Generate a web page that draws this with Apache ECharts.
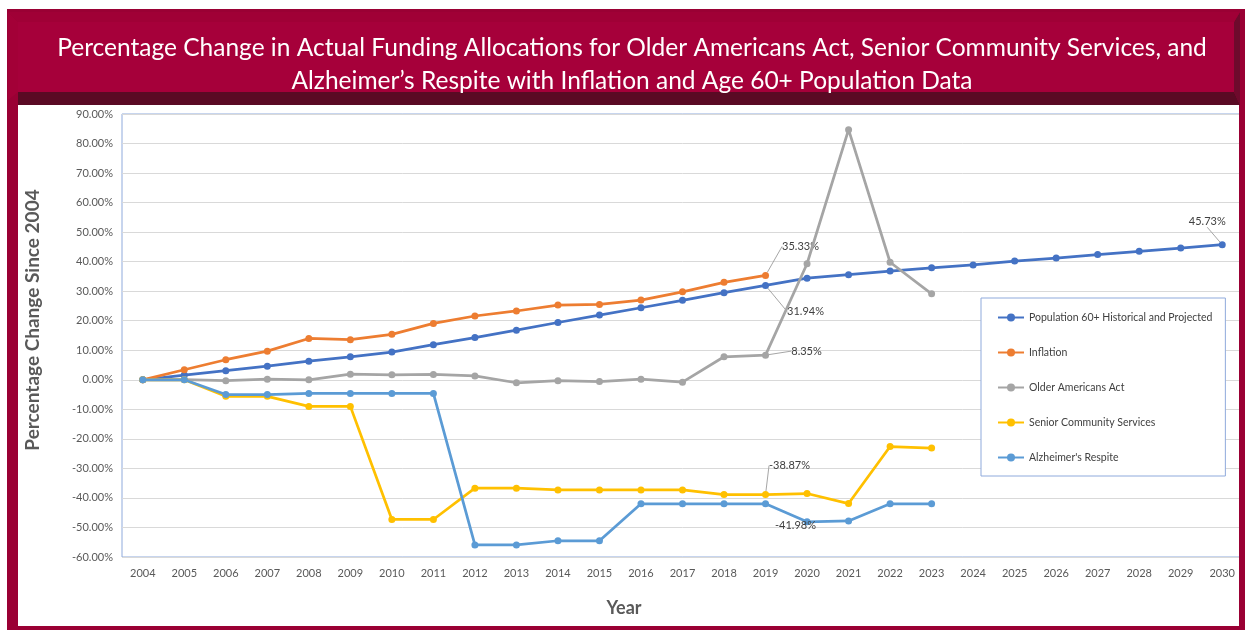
<!DOCTYPE html>
<html>
<head>
<meta charset="utf-8">
<script src="https://cdn.jsdelivr.net/npm/echarts@6/dist/echarts.min.js"></script>
<style>
html,body{margin:0;padding:0;background:#fff;}
#chart{width:1245px;height:630px;}
</style>
</head>
<body>
<div id="chart"></div>
<script>
const years = ['2004','2005','2006','2007','2008','2009','2010','2011','2012','2013','2014','2015','2016','2017','2018','2019','2020','2021','2022','2023','2024','2025','2026','2027','2028','2029','2030'];
const seriesNames = ['Population 60+ Historical and Projected','Inflation','Older Americans Act','Senior Community Services',"Alzheimer's Respite"];
const population = [0,1.6,3.1,4.6,6.3,7.8,9.4,11.9,14.3,16.8,19.4,21.9,24.4,26.9,29.5,31.94,34.4,35.6,36.8,37.9,38.9,40.2,41.2,42.4,43.5,44.6,45.73];
const inflation = [0,3.4,6.8,9.7,14.0,13.6,15.4,19.1,21.6,23.3,25.3,25.5,27.0,29.8,33.0,35.33];
const olderAmericansAct = [0,0.1,-0.3,0.2,0.0,1.9,1.7,1.8,1.3,-1.0,-0.3,-0.6,0.2,-0.8,7.8,8.35,39.3,84.7,39.8,29.1];
const seniorCommunity = [0,0,-5.6,-5.6,-9.0,-9.0,-47.3,-47.3,-36.7,-36.7,-37.3,-37.3,-37.3,-37.3,-38.87,-38.87,-38.5,-41.9,-22.6,-23.1];
const alzheimersRespite = [0,0,-5.0,-5.0,-4.6,-4.6,-4.6,-4.6,-55.9,-55.9,-54.5,-54.5,-41.98,-41.98,-41.98,-41.98,-48.1,-47.8,-41.98,-41.98];
const yTickMin = -60, yTickMax = 90, yTickStep = 10;
const colors = ['#4472C4','#ED7D31','#A5A5A5','#FFC000','#5B9BD5'];
const allData = [population, inflation, olderAmericansAct, seniorCommunity, alzheimersRespite];
// labelled points: [seriesIndex, dataIndex, dx, dy, showLine]
const labelled = [[0,15,40,26,true],[0,26,-15,-23,true],[1,15,35,-29,true],[2,15,41,-4,true],[3,15,24,-29,true],[4,15,30,22,false]];

const FONT = 'Lato';
const chart = echarts.init(document.getElementById('chart'));

function findLabel(s,i){ return labelled.find(l => l[0]===s && l[1]===i); }

const series = allData.map((vals, s) => ({
  name: seriesNames[s],
  type: 'line',
  data: vals.map((v,i) => {
    const l = findLabel(s,i);
    if (l) return {value: v, label: {show: true}, labelLine: {show: l[4]}};
    return v;
  }),
  symbol: 'circle',
  symbolSize: 7,
  lineStyle: {width: 2.75, color: colors[s]},
  itemStyle: {color: colors[s]},
  label: {show: false, position: 'inside', fontFamily: FONT, fontSize: 11, color: '#404040',
    formatter: p => Number(p.value).toFixed(2) + '%'},
  labelLine: {show: true, lineStyle: {color: '#A6A6A6', width: 1}},
  labelLayout: function(p){
    const l = findLabel(s, p.dataIndex);
    if (!l) return {};
    return {dx: l[2], dy: l[3]};
  },
  z: 2 + s
}));

const option = {
  backgroundColor: '#ffffff',
  animation: false,
  color: colors,
  textStyle: {fontFamily: FONT},
  title: [{
    text: 'Percentage Change in Actual Funding Allocations for Older Americans Act, Senior Community Services, and\nAlzheimer\u2019s Respite with Inflation and Age 60+ Population Data',
    left: 627, top: 27, textAlign: 'center', z: 100,
    textStyle: {color: '#ffffff', fontSize: 24.5, fontWeight: 'normal', fontFamily: FONT, lineHeight: 33}
  },{
    text: 'Year', left: 619, top: 594, textAlign: 'center',
    textStyle: {color: '#595959', fontSize: 18, fontWeight: 'bold', fontFamily: FONT}
  }],
  legend: {
    orient: 'vertical', left: 981, top: 298,
    padding: [14, 13, 13, 16], itemGap: 24, itemWidth: 26, itemHeight: 10,
    backgroundColor: '#ffffff', borderColor: '#8FAADC', borderWidth: 1,
    textStyle: {fontFamily: FONT, fontSize: 10.5, color: '#404040'},
    data: seriesNames
  },
  grid: {left: 122, right: 2, top: 114, bottom: 73, show: true, borderColor: '#8FAADC', borderWidth: 1, containLabel: false},
  xAxis: {
    type: 'category', data: years, boundaryGap: true,
    axisLine: {show: false}, axisTick: {show: false},
    axisLabel: {color: '#595959', fontSize: 11, fontFamily: FONT, margin: 11, interval: 0}
  },
  yAxis: {
    type: 'value', min: yTickMin, max: yTickMax, interval: yTickStep,
    name: 'Percentage Change Since 2004', nameLocation: 'middle', nameGap: 80, nameRotate: 90,
    nameTextStyle: {color: '#595959', fontSize: 19, fontWeight: 'bold', fontFamily: FONT, padding: [0, 0, 0, 31]},
    axisLine: {show: false}, axisTick: {show: false},
    axisLabel: {color: '#595959', fontSize: 11, fontFamily: FONT, margin: 9, formatter: v => v.toFixed(2) + '%'},
    splitLine: {lineStyle: {color: '#D9D9D9', width: 1}}
  },
  graphic: [
    {type: 'rect', z: 50, shape: {x: 7, y: 9, width: 1238, height: 96}, style: {fill: '#9A0034'}},
    {type: 'rect', z: 50, shape: {x: 7, y: 9, width: 11, height: 621}, style: {fill: '#9A0034'}},
    {type: 'rect', z: 50, shape: {x: 1239, y: 9, width: 6, height: 621}, style: {fill: '#9A0034'}},
    {type: 'rect', z: 50, shape: {x: 7, y: 626, width: 1238, height: 4}, style: {fill: '#9A0034'}},
    {type: 'polygon', z: 51, shape: {points: [[18,92],[1234,92],[1240,105],[18,105]]}, style: {fill: '#5A0A24'}},
    {type: 'polygon', z: 51, shape: {points: [[1234,22],[1240,12],[1240,105],[1234,92]]}, style: {fill: '#6E0A2C'}},
    {type: 'polygon', z: 51, shape: {points: [[8,12],[18,22],[18,92],[8,100]]}, style: {fill: '#A30037'}},
    {type: 'polygon', z: 51, shape: {points: [[8,12],[1240,12],[1234,22],[18,22]]}, style: {fill: '#A00036'}},
    {type: 'rect', z: 52, shape: {x: 18, y: 22, width: 1216, height: 70}, style: {fill: '#A6003A'}}
  ],
  series: series
};
chart.setOption(option);
</script>
</body>
</html>
